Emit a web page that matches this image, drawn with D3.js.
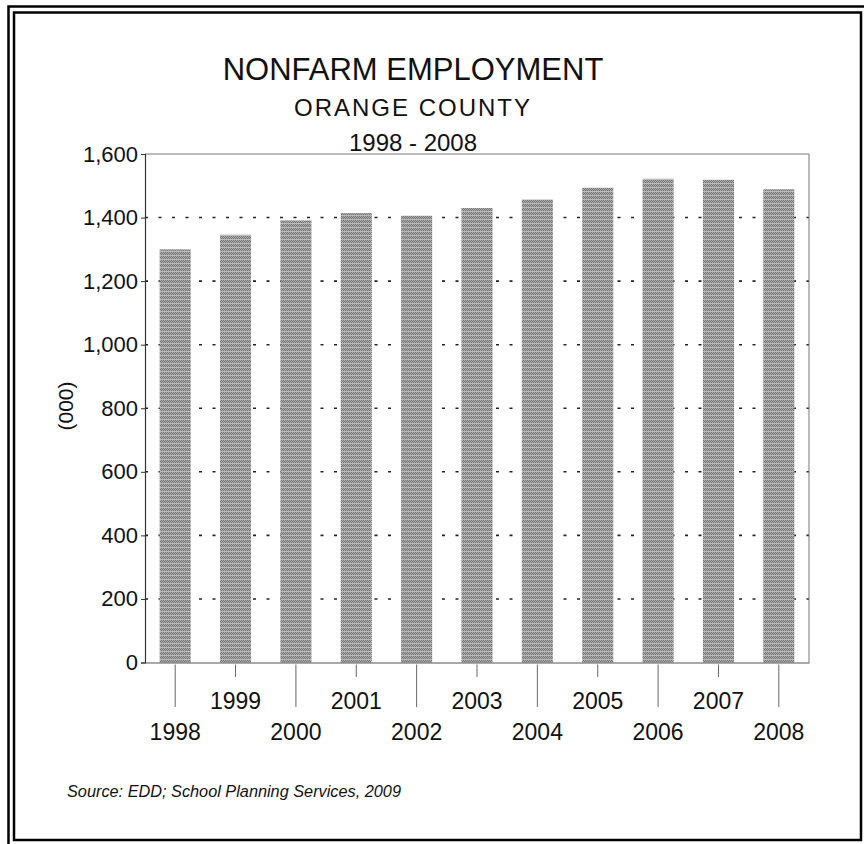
<!DOCTYPE html>
<html>
<head>
<meta charset="utf-8">
<script src="https://cdn.jsdelivr.net/npm/d3@7"></script>
<style>
  html, body { margin: 0; padding: 0; background: #fff; }
  svg { display: block; }
  text { font-family: "Liberation Sans", Arial, Helvetica, sans-serif; fill: #111; }
</style>
</head>
<body>
<svg id="chart" width="864" height="844"></svg>
<script>
// Nonfarm employment, Orange County, thousands of jobs
const years = ["1998", "1999", "2000", "2001", "2002", "2003", "2004", "2005", "2006", "2007", "2008"];
const employment = [1300, 1346, 1391, 1414, 1406, 1430, 1457, 1494, 1522, 1519, 1489];
const yTicks = [0, 200, 400, 600, 800, 1000, 1200, 1400, 1600];
const gridValues = [200, 400, 600, 800, 1000, 1200, 1400];
const titleLines = ["NONFARM EMPLOYMENT", "ORANGE COUNTY", "1998 - 2008"];
const yAxisLabel = "(000)";
const sourceNote = "Source: EDD; School Planning Services, 2009";

const svg = d3.select("#chart");
const plot = { left: 145, right: 809, top: 154, bottom: 662.5 };

// screened grey fill for the bars: dot grid with a light row every 4px
const defs = svg.append("defs");
const pat = defs.append("pattern")
  .attr("id", "screen")
  .attr("patternUnits", "userSpaceOnUse")
  .attr("width", 4).attr("height", 4);
pat.append("rect").attr("width", 4).attr("height", 4).attr("fill", "#777777");
[[0, 0], [2, 0], [1, 1], [3, 1], [0, 2], [2, 2]].forEach(([px, py]) => {
  pat.append("rect").attr("x", px).attr("y", py).attr("width", 1).attr("height", 1).attr("fill", "#aaaaaa");
});
pat.append("rect").attr("x", 0).attr("y", 3).attr("width", 4).attr("height", 1).attr("fill", "#bbbbbb");

// double frame round the page
svg.append("rect")
  .attr("x", 8.5).attr("y", 6.5).attr("width", 870).attr("height", 850)
  .attr("fill", "none").attr("stroke", "#000").attr("stroke-width", 2.5);
svg.append("rect")
  .attr("x", 14).attr("y", 12.5).attr("width", 847).attr("height", 827.5)
  .attr("fill", "none").attr("stroke", "#000").attr("stroke-width", 2.5);

const x = d3.scaleBand()
  .domain(years)
  .range([plot.left, plot.right])
  .paddingInner(0.485)
  .paddingOuter(0.2425);

const y = d3.scaleLinear()
  .domain([0, 1600])
  .range([plot.bottom, plot.top]);

// dashed gridlines
svg.append("g")
  .selectAll("line")
  .data(gridValues)
  .join("line")
  .attr("x1", plot.left).attr("x2", plot.right)
  .attr("y1", d => y(d)).attr("y2", d => y(d))
  .attr("stroke", "#222")
  .attr("stroke-width", 1.6)
  .attr("stroke-dasharray", "3,10.5");

// bars
svg.append("g")
  .selectAll("rect")
  .data(years.map((yr, i) => ({ yr, v: employment[i] })))
  .join("rect")
  .attr("x", d => x(d.yr))
  .attr("y", d => y(d.v))
  .attr("width", x.bandwidth())
  .attr("height", d => y(0) - y(d.v))
  .attr("fill", "url(#screen)");

// plot frame: top and right edges
svg.append("line")
  .attr("x1", plot.left).attr("x2", plot.right)
  .attr("y1", plot.top).attr("y2", plot.top)
  .attr("stroke", "#777").attr("stroke-width", 1);
svg.append("line")
  .attr("x1", plot.right).attr("x2", plot.right)
  .attr("y1", plot.top).attr("y2", plot.bottom)
  .attr("stroke", "#777").attr("stroke-width", 1);

// y axis
const yAxis = svg.append("g")
  .attr("transform", `translate(${plot.left},0)`)
  .call(d3.axisLeft(y).tickValues(yTicks).tickSize(4).tickPadding(3)
    .tickFormat(d3.format(",")));
yAxis.select(".domain").attr("stroke", "#333").attr("stroke-width", 1.2);
yAxis.selectAll(".tick line").attr("stroke", "#333");
yAxis.selectAll(".tick text")
  .attr("font-size", 22)
  .attr("font-family", "'Liberation Sans', Arial, sans-serif")
  .attr("fill", "#111");

// x axis: alternating tick lengths, labels staggered on two rows
const xAxis = svg.append("g")
  .attr("transform", `translate(0,${plot.bottom})`)
  .call(d3.axisBottom(x).tickSize(0).tickFormat(""));
xAxis.select(".domain").attr("stroke", "#555").attr("stroke-width", 1.2);
xAxis.selectAll(".tick line").remove();

const xTicks = svg.append("g");
years.forEach((yr, i) => {
  const cx = x(yr) + x.bandwidth() / 2;
  const low = i % 2 === 0;
  xTicks.append("line")
    .attr("x1", cx).attr("x2", cx)
    .attr("y1", plot.bottom + 2)
    .attr("y2", low ? 707 : 677)
    .attr("stroke", "#666").attr("stroke-width", 1);
  xTicks.append("text")
    .attr("x", cx).attr("y", low ? 740 : 709)
    .attr("text-anchor", "middle")
    .attr("font-size", 23)
    .text(yr);
});

// titles
const titleX = 413;
svg.append("text").attr("x", titleX).attr("y", 80)
  .attr("text-anchor", "middle").attr("font-size", 31)
  .text(titleLines[0]);
svg.append("text").attr("x", titleX).attr("y", 115.5)
  .attr("text-anchor", "middle").attr("font-size", 24)
  .attr("letter-spacing", 2)
  .text(titleLines[1]);
svg.append("text").attr("x", titleX).attr("y", 150.5)
  .attr("text-anchor", "middle").attr("font-size", 24)
  .text(titleLines[2]);

// y axis caption
svg.append("text")
  .attr("transform", "translate(73,406) rotate(-90)")
  .attr("text-anchor", "middle")
  .attr("font-size", 21)
  .text(yAxisLabel);

// source note
svg.append("text")
  .attr("x", 67).attr("y", 797)
  .attr("font-size", 16.3)
  .attr("font-style", "italic")
  .attr("fill", "#222")
  .text(sourceNote);
</script>
</body>
</html>
